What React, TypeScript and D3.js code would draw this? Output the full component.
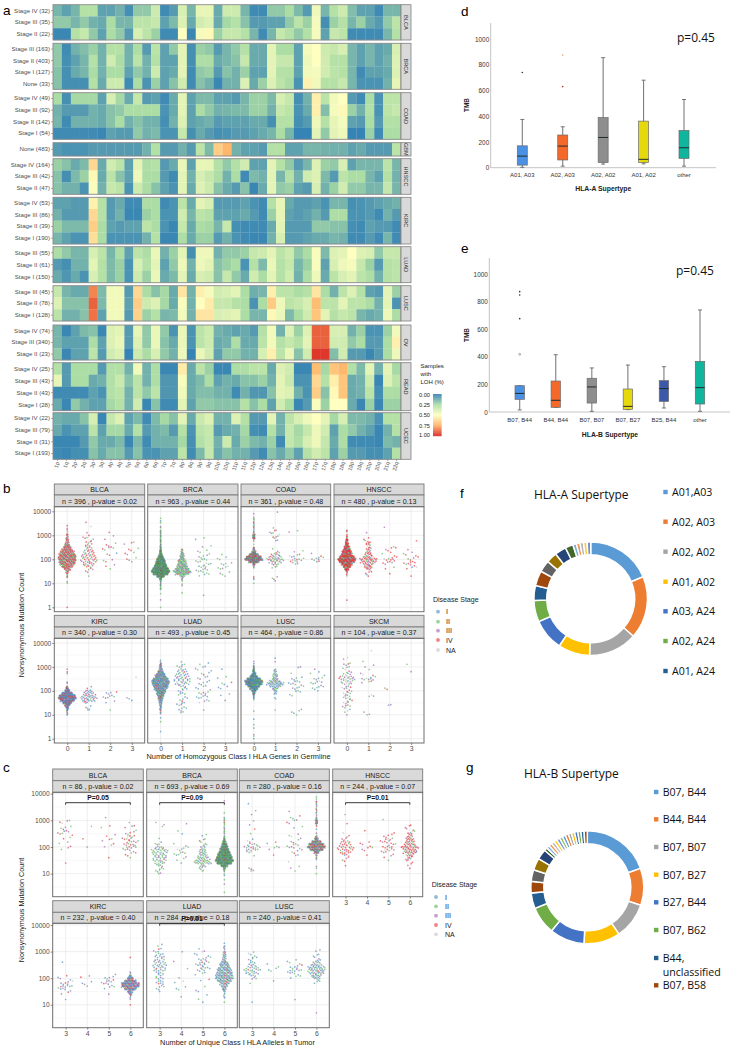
import { useEffect, useRef } from "react";
import * as d3 from "d3";

const SANS = "'Liberation Sans', Arial, sans-serif";
const CALIBRI = "'Open Sans', sans-serif";

// ---- panel a: % of samples with LOH, one row per stage, one value per chromosome arm
const ARMS = ["1p","1q","2p","2q","3p","3q","4p","4q","5p","5q","6p","6q","7p","7q","8p","8q","9p","9q","10p","10q","11p","11q","12p","12q","13q","14q","15q","16p","16q","17p","17q","18p","18q","19p","19q","20p","20q","21q","22q"];

const BLCA_ROWS = ["Stage IV (32)", "Stage III (35)", "Stage II (22)"];
const BLCA_LOH = [
  [15,10,15,28,28,10,10,14,5,20,20,35,4,8,38,15,43,43,12,35,35,15,4,4,20,20,25,16,8,45,15,28,35,17,10,10,4,15,15],
  [20,20,15,20,14,12,25,15,15,30,30,33,10,16,40,12,37,40,12,24,28,18,8,8,10,10,20,30,22,47,5,22,28,15,22,12,8,20,30],
  [3,3,28,33,20,10,25,20,8,38,30,22,4,4,50,3,47,52,22,33,33,28,15,4,15,33,28,20,27,47,10,33,30,4,4,4,4,15,27],
];
const BRCA_ROWS = ["Stage III (163)", "Stage II (403)", "Stage I (127)", "None (33)"];
const BRCA_LOH = [
  [20,4,14,17,22,14,28,28,14,26,8,30,10,20,42,5,22,20,8,15,20,28,12,12,42,25,25,10,47,50,35,33,38,15,10,15,10,12,38],
  [20,5,10,15,28,14,36,25,14,30,14,28,10,10,42,5,26,26,12,15,18,33,12,12,42,33,33,10,45,50,36,28,28,15,10,15,10,14,40],
  [18,5,12,15,25,14,25,25,10,20,14,35,10,12,42,4,20,22,8,18,14,22,10,10,42,28,28,10,46,47,36,30,28,15,4,10,10,12,40],
  [18,5,5,5,28,12,35,35,4,25,6,22,10,18,36,4,18,14,3,14,14,40,12,22,40,30,25,6,54,46,28,28,33,15,6,6,6,14,43],
];
const COAD_ROWS = ["Stage IV (49)", "Stage III (92)", "Stage II (142)", "Stage I (54)"];
const COAD_LOH = [
  [25,5,24,24,24,10,38,24,12,33,8,10,4,12,42,10,16,16,10,10,8,15,22,22,16,38,33,5,14,55,30,46,50,8,4,25,6,30,30],
  [14,8,8,8,14,12,18,20,25,25,25,25,6,12,42,10,25,20,14,15,16,16,22,22,14,33,30,6,12,55,17,47,52,22,14,27,6,30,33],
  [15,4,14,14,14,12,18,25,14,18,14,14,5,14,40,10,12,14,8,10,10,10,12,12,5,28,28,5,8,45,28,43,47,10,8,25,8,27,27],
  [4,4,4,4,4,3,10,8,8,20,14,16,6,6,33,5,12,8,5,6,8,8,10,12,15,25,15,2,2,42,20,42,45,2,2,22,4,25,25],
];
const GBM_ROWS = ["None (483)"];
const GBM_LOH = [
  [8,6,6,6,8,8,8,8,8,8,14,27,8,8,14,8,30,16,65,72,14,10,10,8,28,28,10,10,15,15,14,14,14,10,12,8,8,8,30],
];
const HNSCC_ROWS = ["Stage IV (164)", "Stage III (42)", "Stage II (47)"];
const HNSCC_LOH = [
  [22,18,12,16,62,12,36,30,10,42,26,28,8,12,44,10,43,43,28,20,27,36,10,10,42,28,20,8,15,40,22,20,38,10,15,15,15,30,15],
  [18,5,16,22,52,12,30,18,10,45,25,25,8,4,42,14,38,33,26,14,25,4,16,14,42,15,28,14,36,40,16,8,30,25,25,15,10,28,14],
  [18,14,14,6,48,14,33,30,6,35,25,18,10,6,42,12,40,35,18,12,8,18,3,12,42,20,22,10,8,38,14,22,36,20,20,15,15,32,15],
];
const KIRC_ROWS = ["Stage IV (53)", "Stage III (86)", "Stage II (39)", "Stage I (190)"];
const KIRC_LOH = [
  [10,10,8,8,54,28,8,12,4,4,26,25,4,6,30,12,42,38,8,8,8,10,6,4,28,43,12,8,8,10,6,15,15,5,6,8,10,12,14],
  [14,8,8,8,62,28,8,14,3,3,22,25,6,6,36,15,30,28,10,10,10,12,8,4,22,43,10,8,10,14,8,26,26,6,6,8,4,14,8],
  [22,16,16,16,65,25,10,8,10,10,30,25,6,3,33,12,25,24,15,33,5,4,4,4,12,42,8,8,8,20,20,18,18,5,4,10,8,8,4],
  [15,10,6,6,60,25,6,6,6,6,14,28,3,3,26,12,22,22,8,14,6,4,3,3,14,38,8,8,10,12,12,15,14,4,4,8,4,15,4],
];
const LUAD_ROWS = ["Stage III (55)", "Stage II (61)", "Stage I (150)"];
const LUAD_LOH = [
  [26,20,15,15,38,30,15,26,10,30,26,44,14,22,42,5,45,45,14,20,20,22,33,35,42,30,35,20,25,48,16,40,42,50,40,38,20,33,33],
  [8,5,14,14,42,28,16,22,6,38,28,42,10,20,45,14,45,42,18,22,25,6,28,16,44,28,33,15,22,48,10,38,45,47,33,22,8,28,30],
  [12,7,12,6,38,28,16,22,6,35,22,44,12,16,42,12,38,36,18,33,20,12,36,25,42,28,36,14,26,45,12,30,38,42,30,26,14,28,30],
];
const LUSC_ROWS = ["Stage III (45)", "Stage II (78)", "Stage I (128)"];
const LUSC_LOH = [
  [33,15,12,12,82,16,46,46,8,62,25,18,24,12,58,14,55,47,36,38,42,25,13,15,55,30,30,25,28,58,25,14,30,40,28,10,8,42,22],
  [40,18,18,18,88,16,46,46,10,65,35,40,24,12,48,14,50,56,33,33,28,25,6,25,66,45,30,33,38,70,30,30,42,30,30,25,14,42,6],
  [30,14,14,18,85,10,46,46,8,64,22,28,15,16,46,14,58,58,38,40,42,25,15,15,52,44,16,25,36,68,42,28,33,30,15,12,14,45,25],
];
const OV_ROWS = ["Stage IV (74)", "Stage III (340)", "Stage II (23)"];
const OV_LOH = [
  [15,3,10,16,18,3,40,42,8,43,20,44,20,6,44,6,30,35,14,12,10,12,8,28,46,14,40,22,40,88,88,38,38,14,22,6,6,22,46],
  [15,10,10,10,26,10,40,44,8,40,20,44,18,12,44,6,30,35,12,14,26,12,12,30,46,28,33,28,42,88,88,36,36,20,25,8,8,25,55],
  [20,3,10,10,30,8,36,40,2,35,25,38,20,14,45,2,44,36,10,20,20,14,14,38,55,30,44,18,36,95,95,17,36,8,8,3,8,25,45],
];
const READ_ROWS = ["Stage IV (25)", "Stage III (43)", "Stage II (43)", "Stage I (28)"];
const READ_LOH = [
  [28,8,25,25,25,8,27,27,14,46,14,26,3,3,56,12,30,22,3,3,26,26,30,30,12,40,36,3,3,70,24,68,72,27,16,42,14,42,24],
  [43,8,25,25,12,14,27,34,18,30,14,26,7,7,48,12,16,25,10,14,12,18,18,22,14,42,34,6,6,62,28,55,68,12,14,35,3,40,30],
  [4,4,4,4,10,6,27,30,14,30,20,30,7,7,46,12,17,17,14,14,4,14,7,7,18,42,40,14,6,65,18,52,68,12,14,30,5,26,25],
  [12,3,20,14,10,10,24,28,14,36,3,18,4,4,42,10,20,20,18,18,18,28,18,25,10,36,25,3,8,48,22,50,50,12,3,22,3,22,22],
];
const UCEC_ROWS = ["Stage IV (22)", "Stage III (79)", "Stage II (31)", "Stage I (193)"];
const UCEC_LOH = [
  [14,12,12,18,38,3,33,40,10,16,4,16,24,18,42,12,34,40,14,14,40,28,8,8,42,14,30,38,45,50,42,24,38,16,16,14,6,28,28],
  [12,6,10,10,30,10,24,24,12,28,8,14,16,8,28,6,30,33,8,12,14,24,5,4,28,14,33,24,33,45,36,10,25,20,14,10,3,14,28],
  [3,3,3,8,20,12,12,16,3,16,4,14,14,14,24,5,27,32,14,35,12,22,16,14,22,4,32,26,38,45,32,12,26,4,4,4,3,16,14],
  [4,3,5,5,18,12,18,18,8,18,6,6,10,10,30,4,16,33,12,18,14,14,8,4,18,12,20,10,28,36,30,10,22,8,8,5,5,10,28],
];

const HEAT_PANELS = [
  { name: "BLCA", rows: BLCA_ROWS, values: BLCA_LOH, y0: 4.7, y1: 40 },
  { name: "BRCA", rows: BRCA_ROWS, values: BRCA_LOH, y0: 43.3, y1: 89.3 },
  { name: "COAD", rows: COAD_ROWS, values: COAD_LOH, y0: 92.7, y1: 139.3 },
  { name: "GBM", rows: GBM_ROWS, values: GBM_LOH, y0: 142.7, y1: 156 },
  { name: "HNSCC", rows: HNSCC_ROWS, values: HNSCC_LOH, y0: 158.7, y1: 194.3 },
  { name: "KIRC", rows: KIRC_ROWS, values: KIRC_LOH, y0: 197.3, y1: 244 },
  { name: "LUAD", rows: LUAD_ROWS, values: LUAD_LOH, y0: 246.7, y1: 282.7 },
  { name: "LUSC", rows: LUSC_ROWS, values: LUSC_LOH, y0: 285.7, y1: 321 },
  { name: "OV", rows: OV_ROWS, values: OV_LOH, y0: 325, y1: 360 },
  { name: "READ", rows: READ_ROWS, values: READ_LOH, y0: 362.7, y1: 410.7 },
  { name: "UCEC", rows: UCEC_ROWS, values: UCEC_LOH, y0: 412.7, y1: 459.3 },
];

const LOH_TICKS = [0, 25, 50, 75, 100];
const LOH_COLORS = ["#2c7bb6", "#abdda4", "#ffffbf", "#fdae61", "#d7191c"];

// ---- panels b and c: how many samples sit at each mutation count.
// Flat pairs of bin, count; bin is log10(mutations) in tenths, so 20 = 100 mutations.
const STAGES = ["I", "II", "III", "IV", "NA"];
const STAGE_COLORS = ["#377eb8", "#4daf4a", "#984ea3", "#e41a1c", "#bdbdbd"];

const HOMOZYGOUS_CATS = ["0", "1", "2", "3"];
const B_BLCA = [
  [0,1,10,1,11,1,12,1,13,2,14,3,15,6,16,12,17,20,18,27,19,30,20,32,21,32,22,30,23,26,24,20,25,14,26,10,27,7,28,5,29,4,30,3,31,2,32,1,33,1,34,1],
  [13,1,15,2,16,3,17,5,18,6,19,8,20,9,21,8,22,7,23,6,24,5,25,4,26,4,27,3,28,2,29,3,30,1,31,1,34,1,35,1],
  [16,1,17,1,18,1,19,2,20,1,22,2,23,1,24,2,25,3,26,2,27,1,28,1,30,1,31,1],
  [19,1,20,2,21,1,22,2,23,1,24,2,25,1,26,1,27,2],
];
const B_BRCA = [
  [0,1,3,1,6,1,7,1,8,2,9,3,10,3,11,5,12,12,13,45,14,90,15,110,16,95,17,75,18,65,19,55,20,45,21,30,22,18,23,10,24,7,25,5,26,4,27,3,28,3,29,3,30,3,31,3,32,2,33,1,34,1,35,1,36,1,37,1],
  [6,1,9,1,10,1,11,2,12,2,13,8,14,22,15,28,16,22,17,17,18,15,19,13,20,10,21,7,22,6,23,4,24,3],
  [5,1,13,1,14,3,15,4,16,3,17,4,18,4,19,3,20,3,21,3,22,2,23,2,24,1,25,1,26,1,28,1,29,1],
  [13,1,14,2,15,1,16,3,17,2,18,3,19,1,20,2,21,1,22,1],
];
const B_COAD = [
  [10,1,12,2,13,1,16,1,17,2,18,8,19,35,20,60,21,50,22,30,23,14,24,6,25,3,26,1,28,2,29,8,30,8,31,3,32,2,33,2,34,2,35,2,36,2,37,2,38,1,39,1],
  [11,1,12,2,13,1,16,1,17,2,18,5,19,9,20,12,21,9,22,6,23,3,24,1,28,2,29,3,30,2,31,3,32,2,33,1,40,1],
  [18,2,19,4,20,6,21,3,22,2,23,1,24,1,31,1,32,1],
  [19,2,20,4,21,3,22,1],
];
const B_HNSCC = [
  [3,1,13,1,14,2,15,5,16,12,17,20,18,30,19,42,20,48,21,40,22,30,23,26,24,20,25,15,26,10,27,8,28,6,29,3,30,2,31,1,32,2],
  [13,1,14,2,15,3,16,5,17,7,18,9,19,14,20,15,21,9,22,6,23,5,24,4,25,3,26,4,27,4,28,2,29,1,31,1],
  [14,1,16,1,17,1,18,2,19,4,20,5,21,3,22,1,23,1,24,2,25,3,33,1],
  [13,1,16,1,17,3,18,4,19,3,20,2,21,3,22,2,23,1,24,1,28,1],
];
const B_KIRC = [
  [10,2,11,2,12,4,13,8,14,14,15,25,16,40,17,50,18,45,19,30,20,15,21,8,22,3,23,1,24,1,27,1,28,1,29,1],
  [12,2,13,2,14,1,15,3,16,9,17,12,18,10,19,7,20,5,21,1,22,1],
  [12,1,15,1,16,1,17,3,18,3,19,3,20,1],
  [16,1,17,2,26,1],
];
const B_LUAD = [
  [3,1,7,1,9,1,10,1,11,2,12,3,13,4,14,5,15,6,16,8,17,11,18,14,19,18,20,22,21,28,22,32,23,36,24,38,25,32,26,24,27,18,28,12,29,8,30,5,31,4,32,2,33,1],
  [11,2,12,2,13,3,14,3,15,2,16,2,17,3,18,1,19,3,20,3,21,3,22,4,23,7,24,8,25,8,26,7,27,6,28,5,29,4,30,3,31,2,32,1],
  [12,1,15,1,16,3,17,3,18,3,19,4,20,2,21,2,22,2,23,3,24,2,25,2,26,2,27,2,28,2,29,2,30,2,31,1,32,1],
  [16,1,18,1,19,1,21,2,22,1,23,2,24,1,25,1,26,1,29,1],
];
const B_LUSC = [
  [0,1,1,1,2,1,4,1,6,1,8,1,12,1,16,1,17,2,18,4,19,8,20,15,21,28,22,40,23,55,24,60,25,45,26,25,27,14,28,8,29,5,30,3,31,2,32,1],
  [12,1,17,2,19,3,20,4,21,6,22,12,23,18,24,12,25,6,26,5,27,5,28,3,29,2,32,1,34,1],
  [10,1,11,2,12,2,18,2,20,3,21,3,22,3,23,4,24,3,25,3,26,1,27,1,30,2],
  [20,1,21,3,22,3,23,3,24,3,25,3,26,2,27,1,28,1,29,1],
];
const B_SKCM = [
  [10,1,11,1,12,2,13,2,14,3,15,3,16,3,17,4,18,3,19,4,20,3,21,3,22,3,23,5,24,6,25,8,26,7,27,4,28,3,29,2,30,2,31,3,32,1,33,1,34,1],
  [10,2,11,1,18,3,23,1,24,2,25,6,26,3,27,2,29,1,30,1,31,1,32,1,37,1],
  [14,2,21,2],
  [28,1,31,1],
];

const ALLELE_CATS = ["3", "4", "5", "6"];
const C_BLCA = [
  [14,1,19,1,20,2,21,1,22,1,23,1,24,2,25,3,26,3,27,3,28,1,29,2,30,2],
  [20,1,23,1,28,1],
  [16,1,20,1,21,2,22,1,23,2,24,1,25,1,27,1,28,1,31,1],
  [16,1,17,2,18,3,19,4,20,5,21,6,22,6,23,5,24,4,25,3,26,2,27,1,28,2,29,1],
];
const C_BRCA = [
  [10,2,11,3,12,3,13,4,14,6,15,8,16,8,17,8,18,9,19,10,20,5,21,3,22,1,23,1,28,2,29,1],
  [14,1,15,1,16,2,17,3,18,3,19,3,20,3,21,1,25,1,26,1,29,1],
  [11,2,12,3,13,5,14,14,15,12,16,9,17,8,18,6,19,5,20,4,21,3,22,2,23,2,24,1,25,1],
  [3,1,6,1,8,1,9,1,10,1,11,3,12,8,13,30,14,65,15,80,16,70,17,60,18,50,19,40,20,30,21,22,22,14,23,6,24,3,25,2,26,2,27,2,28,2,29,2,30,2,31,2,33,1,37,1],
];
const C_COAD = [
  [11,2,12,2,17,1,18,3,19,6,20,8,21,5,22,2,23,1,25,1,27,1,28,1,30,1,32,1,34,1,36,1],
  [17,1,19,1,20,3,21,1,22,1],
  [11,1,12,1,13,1,14,1,17,2,18,2,19,3,20,4,21,3,22,2,23,2,24,2,25,1,27,1,28,1,29,2,30,2,31,2,32,1,33,1],
  [10,1,12,1,13,1,15,1,16,2,17,4,18,14,19,35,20,48,21,42,22,25,23,10,24,5,25,1,27,1,28,2,29,6,30,6,31,3,32,2,33,2,34,2,35,2,36,2,37,2,38,1,39,1],
];
const C_HNSCC = [
  [13,1,15,2,16,2,17,4,18,6,19,8,20,9,21,6,22,5,23,3,24,2,25,1,29,1,32,1],
  [17,1,19,2,20,3,21,2,22,1,26,1],
  [15,1,16,1,17,2,18,3,19,5,20,5,21,4,22,5,23,4,24,3,25,2,30,1],
  [12,1,13,1,14,2,15,3,16,4,17,7,18,12,19,12,20,15,21,10,22,8,23,7,24,5,25,4,26,3,27,2,28,2],
];
const C_KIRC = [
  [12,1,14,1,15,2,16,4,17,6,18,4,19,3,20,2,21,1,26,1],
  [17,1,18,2,19,1,20,1,21,1],
  [14,1,16,1,17,3,18,4,19,4,20,3,21,2],
  [10,1,12,1,13,2,14,6,15,12,16,25,17,38,18,38,19,25,20,12,21,5,22,2,28,1],
];
const C_LUAD = [
  [15,1,16,2,17,3,18,4,19,3,20,4,21,4,22,4,23,6,24,6,25,7,26,6,27,5,28,5,29,4,30,3,31,2,32,1,33,1],
  [13,1,16,2,17,1,18,1,19,1,20,1,24,1,26,1,30,1],
  [11,1,12,1,14,1,15,2,17,1,19,1,20,1,21,1,22,2,23,4,24,5,25,5,26,5,27,4,28,3,29,2,30,2,31,1],
  [11,1,13,2,14,2,15,3,16,5,17,8,18,12,19,18,20,22,21,22,22,20,23,18,24,15,25,12,26,9,27,5,28,4,29,4,30,3,31,2,32,2,33,1],
];
const C_LUSC = [
  [11,1,18,1,20,3,21,4,22,7,23,9,24,7,25,4,26,3,27,3,28,3,29,2,30,1],
  [19,1,23,2,24,2,25,1],
  [12,1,20,1,21,3,22,4,23,6,24,4,25,3,26,2,27,1],
  [7,1,18,1,19,3,20,6,21,8,22,12,23,14,24,14,25,9,26,6,27,3,28,2,29,2,30,1,31,1],
];

// share of each disease stage (I, II, III, IV, NA) per cancer type, judged by eye
const STAGE_MIX: Record<string, number[]> = {
  BLCA: [3, 30, 25, 40, 2],
  BRCA: [17, 58, 20, 2, 3],
  COAD: [15, 35, 30, 15, 5],
  HNSCC: [5, 15, 15, 60, 5],
  KIRC: [48, 10, 25, 15, 2],
  LUAD: [52, 25, 16, 5, 2],
  LUSC: [48, 33, 16, 2, 1],
  SKCM: [10, 30, 35, 10, 15],
};

const B_PANELS = [
  { name: "BLCA", stat: "n = 396 , p-value = 0.02", bins: B_BLCA },
  { name: "BRCA", stat: "n = 963 , p-value = 0.44", bins: B_BRCA },
  { name: "COAD", stat: "n = 361 , p-value = 0.48", bins: B_COAD },
  { name: "HNSCC", stat: "n = 480 , p-value = 0.13", bins: B_HNSCC },
  { name: "KIRC", stat: "n = 340 , p-value = 0.30", bins: B_KIRC },
  { name: "LUAD", stat: "n = 493 , p-value = 0.45", bins: B_LUAD },
  { name: "LUSC", stat: "n = 464 , p-value = 0.86", bins: B_LUSC },
  { name: "SKCM", stat: "n = 104 , p-value = 0.37", bins: B_SKCM },
];
const C_PANELS = [
  { name: "BLCA", stat: "n = 86 , p-value = 0.02", bins: C_BLCA, bracket: "P=0.05" },
  { name: "BRCA", stat: "n = 693 , p-value = 0.69", bins: C_BRCA, bracket: "P=0.09" },
  { name: "COAD", stat: "n = 280 , p-value = 0.16", bins: C_COAD },
  { name: "HNSCC", stat: "n = 244 , p-value = 0.07", bins: C_HNSCC, bracket: "P=0.01" },
  { name: "KIRC", stat: "n = 232 , p-value = 0.40", bins: C_KIRC },
  { name: "LUAD", stat: "n = 284 , p-value = 0.18", bins: C_LUAD, bracket: "P=0.01" },
  { name: "LUSC", stat: "n = 240 , p-value = 0.41", bins: C_LUSC },
];

const B_COLS = [[54.3, 144.7], [147.7, 238], [241, 330.7], [334, 424]];
const C_COLS = [[52.7, 143.3], [146.7, 237.3], [239.3, 329.3], [332.7, 422.7]];
const B_ROWS = [
  { stripTop: 484, mid: 495, top: 506.7, bottom: 611.7, y1: 607.3, y10000: 511.3 },
  { stripTop: 615.3, mid: 627, top: 638.3, bottom: 743, y1: 738.7, y10000: 643 },
];
const C_ROWS = [
  { stripTop: 769, mid: 780.7, top: 792.3, bottom: 896.7, y1: 900.3, y10000: 793.7 },
  { stripTop: 900.7, mid: 912.3, top: 923.3, bottom: 1027.7, y1: 1031.4, y10000: 925 },
];

// ---- panels d and e: TMB box plots
const A_TYPES = ["A01, A03", "A02, A03", "A02, A02", "A01, A02", "other"];
const A_LOW = [3, 12, 28, 30, 12];
const A_Q1 = [20, 60, 40, 40, 72];
const A_MEDIAN = [90, 168, 235, 65, 155];
const A_Q3 = [170, 254, 390, 362, 290];
const A_HIGH = [375, 318, 855, 680, 530];
const A_OUTLIERS = [[740], [630, 875], [], [], []];
const A_FILLS = ["#4a90e4", "#f4692a", "#8e8e8e", "#e5d80c", "#0fb59c"];

const B_TYPES = ["B07, B44", "B44, B44", "B07, B07", "B07, B27", "B25, B44", "other"];
const B_LOW = [15, 34, 5, 17, 29, 5];
const B_Q1 = [92, 34, 65, 19, 77, 58];
const B_MEDIAN = [135, 85, 182, 41, 170, 177];
const B_Q3 = [191, 225, 245, 167, 228, 368];
const B_HIGH = [191, 416, 320, 341, 329, 741];
const B_OUTLIERS = [[419, 678, 850, 874], [], [], [], [], []];
const B_FILLS = ["#4a90e4", "#f4692a", "#8e8e8e", "#e5d80c", "#3d5aa8", "#0fb59c"];

const TMB_TICKS = [0, 200, 400, 600, 800, 1000];

// ---- panels f and g: supertype shares, in %
const A_SHARES = [18.4, 17.5, 13.6, 8.9, 8.9, 6, 4.2, 4.2, 3.3, 3, 3.2, 2.2, 1, 1, 1, 1, 1];
const A_LEGEND = ["A01,A03", "A02, A03", "A02, A02", "A01, A02", "A03, A24", "A02, A24", "A01, A24"];
const B_SHARES = [19.4, 10.5, 10.3, 10.3, 9.9, 7.9, 4.4, 3.3, 3.3, 3.4, 2.9, 0.9, 0.9, 0.9, 0.9, 0.9, 0.9, 0.9, 0.9, 0.9, 0.9, 0.9, 0.9, 0.9, 0.9, 0.9];
const B_LEGEND = ["B07, B44", "B44, B44", "B07, B07", "B07, B27", "B27, B44", "B07, B62", "B44,", "B07, B58"];
const DONUT_COLORS = ["#5b9bd5", "#ed7d31", "#a5a5a5", "#ffc000", "#4472c4", "#70ad47", "#255e91", "#9e480e", "#636363", "#997300", "#264478", "#43682b", "#7cafdd", "#f1975a", "#b7b7b7", "#ffcd33", "#698ed0", "#8cc168"];

type Sel = d3.Selection<any, any, any, any>;

function label(g: Sel, x: number, y: number, s: string, size: number, opts: any = {}) {
  return g.append("text")
    .attr("x", x).attr("y", y)
    .attr("font-family", opts.font ?? SANS)
    .attr("font-size", size)
    .attr("font-weight", opts.weight ?? "normal")
    .attr("fill", opts.fill ?? "#222")
    .attr("text-anchor", opts.anchor ?? "start")
    .attr("transform", opts.rotate ? `rotate(${opts.rotate},${x},${y})` : null)
    .text(s);
}

function drawHeatmap(svg: Sel) {
  const x = d3.scaleBand<string>().domain(ARMS).range([53, 401]);
  const color = d3.scaleLinear<string>().domain(LOH_TICKS).range(LOH_COLORS);

  HEAT_PANELS.forEach((p) => {
    const y = d3.scaleBand<string>().domain(p.rows).range([p.y0, p.y1]);
    p.values.forEach((row, r) => {
      svg.append("g").selectAll("rect").data(row).join("rect")
        .attr("x", (_, i) => x(ARMS[i])!)
        .attr("y", y(p.rows[r])!)
        .attr("width", x.bandwidth() + 0.2)
        .attr("height", y.bandwidth() + 0.2)
        .attr("fill", (d) => color(d));
    });
    svg.append("rect").attr("x", 53).attr("y", p.y0).attr("width", 348).attr("height", p.y1 - p.y0)
      .attr("fill", "none").attr("stroke", "#8a8a8a").attr("stroke-width", 0.9);
    svg.append("rect").attr("x", 401).attr("y", p.y0).attr("width", 10).attr("height", p.y1 - p.y0)
      .attr("fill", "#d9d9d9").attr("stroke", "#808080").attr("stroke-width", 0.8);
    const mid = (p.y0 + p.y1) / 2;
    label(svg, 404, mid, p.name, 5.6, { anchor: "middle", rotate: 90, fill: "#333" });

    const axis = d3.axisLeft(y).tickSize(2).tickPadding(1);
    svg.append("g").attr("transform", "translate(53,0)").call(axis)
      .call((s: Sel) => s.select(".domain").remove())
      .call((s: Sel) => s.selectAll("line").attr("stroke", "#666").attr("stroke-width", 0.5))
      .call((s: Sel) => s.selectAll("text").attr("font-family", SANS).attr("font-size", 6.1).attr("fill", "#4d4d4d"));
  });

  ARMS.forEach((a) => {
    const cx = x(a)! + x.bandwidth() / 2;
    svg.append("line").attr("x1", cx).attr("x2", cx).attr("y1", 459.3).attr("y2", 461)
      .attr("stroke", "#666").attr("stroke-width", 0.5);
    label(svg, cx + 1.8, 462.5, a, 5.3, { anchor: "end", rotate: -75, fill: "#4d4d4d" });
  });

  // colour legend
  label(svg, 420.5, 368, "Samples", 6, { fill: "#222" });
  label(svg, 420.5, 376, "with", 6, { fill: "#222" });
  label(svg, 420.5, 384, "LOH (%)", 6, { fill: "#222" });
  const bar = d3.scaleLinear().domain([0, 100]).range([394, 436]);
  svg.append("g").selectAll("rect").data(d3.range(0, 100)).join("rect")
    .attr("x", 433).attr("width", 8.5)
    .attr("y", (d) => bar(d)).attr("height", bar(1) - bar(0) + 0.2)
    .attr("fill", (d) => color(d));
  LOH_TICKS.forEach((t) => {
    label(svg, 419, bar(t) + 2 + (t === 0 ? 0.6 : t === 100 ? -0.6 : 0), (t / 100).toFixed(2), 5.6, { fill: "#222" });
  });
}

// van der Corput sequence: sideways offsets that spread sparse rows the way a quasirandom plot does
function vdc(n: number) {
  let v = 0, f = 0.5;
  while (n > 0) { v += f * (n & 1); n >>= 1; f /= 2; }
  return v;
}

function swarm(pairs: number[]) {
  const rows: { bin: number; n: number }[] = [];
  for (let i = 0; i < pairs.length; i += 2) rows.push({ bin: pairs[i], n: pairs[i + 1] });
  const maxRow = d3.max(rows, (r) => r.n) ?? 1;
  const spacing = Math.min(18, maxRow * 2.2) / maxRow;
  const sparse = maxRow <= 6;
  const pts: { bin: number; dx: number; dy: number }[] = [];
  rows.forEach((r, k) => {
    const rowW = (r.n - 1) * spacing;
    const shift = sparse ? (vdc(k + 1) - 0.5) * (17 - rowW) : maxRow <= 15 && r.n <= 3 ? (vdc(k + 1) - 0.5) * 8 : 0;
    for (let j = 0; j < r.n; j++) {
      pts.push({
        bin: r.bin,
        dx: j * spacing - rowW / 2 + shift,
        dy: vdc(j + 1 + k * 5) * 2.2 - 1.1,
      });
    }
  });
  return pts;
}

// hand out stages in proportion to the mix, point by point
function stagePicker(mix: number[]) {
  const total = d3.sum(mix);
  const credit = mix.map(() => 0);
  return () => {
    mix.forEach((m, i) => (credit[i] += m / total));
    const pick = d3.maxIndex(credit);
    credit[pick] -= 1;
    return pick;
  };
}

function drawFacet(svg: Sel, panel: any, col: number[], row: any, cats: string[], ticks: number[], showY: boolean, showX: boolean, bracketDy: number) {
  const [x0, x1] = col;
  const w = x1 - x0;
  const sg = svg.append("g");
  sg.append("rect").attr("x", x0).attr("y", row.stripTop).attr("width", w).attr("height", row.mid - row.stripTop)
    .attr("fill", "#d9d9d9").attr("stroke", "#7a7a7a").attr("stroke-width", 0.9);
  sg.append("rect").attr("x", x0).attr("y", row.mid).attr("width", w).attr("height", row.top - row.mid)
    .attr("fill", "#d9d9d9").attr("stroke", "#7a7a7a").attr("stroke-width", 0.9);
  label(sg, (x0 + x1) / 2, row.mid - 3, panel.name, 7, { anchor: "middle", fill: "#1a1a1a" });
  label(sg, (x0 + x1) / 2, row.top - 3, panel.stat, 7.1, { anchor: "middle", fill: "#1a1a1a" });

  const x = d3.scalePoint<string>().domain(cats).range([x0, x1]).padding(0.6);
  const y = d3.scaleLog().domain([1, 10000]).range([row.y1, row.y10000]);

  const g = svg.append("g");
  // grid
  [0.5, 1.5, 2.5, 3.5].map((e) => Math.pow(10, e)).forEach((v) => {
    if (y(v) < row.top || y(v) > row.bottom) return;
    g.append("line").attr("x1", x0).attr("x2", x1).attr("y1", y(v)).attr("y2", y(v)).attr("stroke", "#f0f0f0").attr("stroke-width", 0.5);
  });
  ticks.forEach((v) => {
    g.append("line").attr("x1", x0).attr("x2", x1).attr("y1", y(v)).attr("y2", y(v)).attr("stroke", "#e6e6e6").attr("stroke-width", 0.7);
  });
  cats.forEach((c) => {
    g.append("line").attr("x1", x(c)!).attr("x2", x(c)!).attr("y1", row.top).attr("y2", row.bottom).attr("stroke", "#e6e6e6").attr("stroke-width", 0.7);
  });

  // points
  const pick = stagePicker(STAGE_MIX[panel.name]);
  (panel.bins as number[][]).forEach((pairs, c) => {
    const pts = swarm(pairs).map((p) => ({ ...p, stage: pick() }));
    g.append("g").selectAll("circle").data(pts).join("circle")
      .attr("cx", (d) => x(cats[c])! + d.dx)
      .attr("cy", (d) => y(Math.pow(10, d.bin / 10)) + d.dy)
      .attr("r", 0.85)
      .attr("fill", (d) => STAGE_COLORS[d.stage])
      .attr("fill-opacity", 0.6);
  });

  g.append("rect").attr("x", x0).attr("y", row.top).attr("width", w).attr("height", row.bottom - row.top)
    .attr("fill", "none").attr("stroke", "#6e6e6e").attr("stroke-width", 1);

  if (panel.bracket) {
    const ly = row.top + bracketDy;
    const xa = x(cats[0])!, xb = x(cats[3])!;
    svg.append("path").attr("d", `M${xa},${ly + 2}V${ly}H${xb}V${ly + 2}`).attr("fill", "none").attr("stroke", "#222").attr("stroke-width", 0.9);
    label(svg, (xa + xb) / 2, ly - 2.6, panel.bracket, 6.8, { anchor: "middle", weight: "bold", fill: "#111" });
  }

  if (showY) {
    svg.append("g").attr("transform", `translate(${x0},0)`)
      .call(d3.axisLeft(y).tickValues(ticks).tickFormat((d) => String(d)).tickSize(2).tickPadding(1))
      .call((s: Sel) => s.select(".domain").remove())
      .call((s: Sel) => s.selectAll("line").attr("stroke", "#444").attr("stroke-width", 0.6))
      .call((s: Sel) => s.selectAll("text").attr("font-family", SANS).attr("font-size", 6.6).attr("fill", "#4d4d4d"));
  }
  if (showX) {
    svg.append("g").attr("transform", `translate(0,${row.bottom})`)
      .call(d3.axisBottom(x).tickSize(2).tickPadding(1.5))
      .call((s: Sel) => s.select(".domain").remove())
      .call((s: Sel) => s.selectAll("line").attr("stroke", "#444").attr("stroke-width", 0.6))
      .call((s: Sel) => s.selectAll("text").attr("font-family", SANS).attr("font-size", 6.8).attr("fill", "#4d4d4d"));
  }
}

function stageLegend(svg: Sel, titleX: number, titleY: number, dotX: number, textX: number, rowYs: number[]) {
  label(svg, titleX, titleY, "Disease Stage", 7, { fill: "#222" });
  STAGES.forEach((s, i) => {
    svg.append("circle").attr("cx", dotX).attr("cy", rowYs[i]).attr("r", 1.9)
      .attr("fill", STAGE_COLORS[i]).attr("fill-opacity", 0.55);
    label(svg, textX, rowYs[i] + 2.5, s, 7, { fill: "#222" });
  });
}

function drawBoxes(svg: Sel, cfg: any) {
  const x = d3.scalePoint<string>().domain(cfg.types).range(cfg.xRange);
  const y = d3.scaleLinear().domain([0, 1000]).range(cfg.yRange);
  const half = cfg.boxW / 2;

  svg.append("g").attr("transform", `translate(${cfg.axisX},0)`)
    .call(d3.axisLeft(y).tickValues(TMB_TICKS).tickFormat((d) => String(d)).tickSize(0).tickPadding(1.5))
    .call((s: Sel) => s.select(".domain").remove())
    .call((s: Sel) => s.selectAll("text").attr("font-family", SANS).attr("font-size", 6.4).attr("fill", "#333"));
  svg.append("path").attr("d", `M${cfg.axisX},${cfg.axisTop}V${y(0)}H${cfg.axisRight}`)
    .attr("fill", "none").attr("stroke", "#c4c4c4").attr("stroke-width", 1);

  cfg.types.forEach((t: string, i: number) => {
    const cx = x(t)!;
    const g = svg.append("g");
    g.append("line").attr("x1", cx).attr("x2", cx).attr("y1", y(cfg.high[i])).attr("y2", y(cfg.low[i])).attr("stroke", "#7d7d7d").attr("stroke-width", 1.1);
    [cfg.high[i], cfg.low[i]].forEach((v: number) => {
      g.append("line").attr("x1", cx - 2).attr("x2", cx + 2).attr("y1", y(v)).attr("y2", y(v)).attr("stroke", "#666").attr("stroke-width", 0.9);
    });
    g.append("rect").attr("x", cx - half).attr("width", half * 2)
      .attr("y", y(cfg.q3[i])).attr("height", y(cfg.q1[i]) - y(cfg.q3[i]))
      .attr("fill", cfg.fills[i]).attr("stroke", "#6b6b6b").attr("stroke-width", 0.7);
    g.append("line").attr("x1", cx - half).attr("x2", cx + half).attr("y1", y(cfg.median[i])).attr("y2", y(cfg.median[i])).attr("stroke", "#1f2b2b").attr("stroke-width", 1);
    cfg.outliers[i].forEach((v: number) => {
      const open = cfg.openOutlier === v;
      g.append("circle").attr("cx", cx).attr("cy", y(v)).attr("r", open ? 0.9 : 0.8)
        .attr("fill", open ? "#fff" : cfg.outlierColor(i, v)).attr("stroke", open ? "#555" : "none").attr("stroke-width", 0.5);
    });
    label(g, cx, cfg.labelY, t, 6, { anchor: "middle", fill: "#333" });
  });
  label(svg, cfg.titleX, cfg.titleY, cfg.title, 6.8, { anchor: "middle", weight: "bold", fill: "#222" });
  label(svg, 469, cfg.tmbY, "TMB", 6.4, { anchor: "middle", weight: "bold", rotate: -90, fill: "#222" });
  label(svg, cfg.pX, cfg.pY, "p=0.45", 12, { font: CALIBRI, fill: "#111" });
}

function drawDonut(svg: Sel, cfg: any) {
  const pie = d3.pie<number>().sort(null).value((d) => d);
  const arc = d3.arc<d3.PieArcDatum<number>>().innerRadius(cfg.inner).outerRadius(cfg.outer);
  svg.append("g").attr("transform", `translate(${cfg.cx},${cfg.cy})`)
    .selectAll("path").data(pie(cfg.shares)).join("path")
    .attr("d", arc as any)
    .attr("fill", (_, i) => DONUT_COLORS[i % DONUT_COLORS.length])
    .attr("stroke", "#fff").attr("stroke-width", 1.5);
  label(svg, cfg.titleX, cfg.titleY, cfg.title, 12, { font: CALIBRI, fill: "#111" });
  cfg.legend.forEach((s: string, i: number) => {
    const ly = cfg.legendY[i];
    svg.append("rect").attr("x", cfg.swatchX).attr("y", ly - 2.2).attr("width", 4.4).attr("height", 4.4).attr("fill", DONUT_COLORS[i]);
    label(svg, cfg.textX, ly + 4, s, 10.6, { font: CALIBRI, fill: "#111" });
  });
}

export default function App() {
  const ref = useRef<SVGSVGElement | null>(null);

  useEffect(() => {
    const svg = d3.select(ref.current) as Sel;
    svg.selectAll("*").remove();

    [["a", 3, 15], ["b", 3, 492.5], ["c", 3, 771.5], ["d", 461, 16], ["e", 461, 253], ["f", 460, 498], ["g", 466, 772]].forEach(([s, x, y]) => {
      label(svg, x as number, y as number, s as string, 13.5, { fill: "#000" });
    });

    drawHeatmap(svg);

    B_PANELS.forEach((p, i) => {
      const r = Math.floor(i / 4), c = i % 4;
      drawFacet(svg, p, B_COLS[c], B_ROWS[r], HOMOZYGOUS_CATS, [1, 10, 100, 1000, 10000], c === 0, r === 1, 0);
    });
    label(svg, 24, 625, "Nonsynonymous Mutation Count", 7.2, { anchor: "middle", rotate: -90, fill: "#222" });
    label(svg, 238.5, 759, "Number of Homozygous Class I HLA Genes in Germline", 7.4, { anchor: "middle", fill: "#222" });
    stageLegend(svg, 433, 602, 438, 446, [611.7, 621.7, 630.7, 640, 650]);

    C_PANELS.forEach((p, i) => {
      const r = Math.floor(i / 4), c = i % 4;
      drawFacet(svg, p, C_COLS[c], C_ROWS[r], ALLELE_CATS, [10, 100, 1000, 10000], c === 0, r === 1 || i === 3, r === 0 ? 10.4 : 0.4);
    });
    label(svg, 24, 910, "Nonsynonymous Mutation Count", 7.2, { anchor: "middle", rotate: -90, fill: "#222" });
    label(svg, 237.5, 1045, "Number of Unique Class I HLA Alleles in Tumor", 7.4, { anchor: "middle", fill: "#222" });
    stageLegend(svg, 431.7, 887, 436, 445, [897, 906.3, 915.7, 925, 934.3]);

    drawBoxes(svg, {
      types: A_TYPES, low: A_LOW, q1: A_Q1, median: A_MEDIAN, q3: A_Q3, high: A_HIGH, outliers: A_OUTLIERS, fills: A_FILLS,
      xRange: [522.3, 684], yRange: [167.7, 39], boxW: 10, axisX: 490.7, axisTop: 23, axisRight: 716,
      labelY: 176.5, title: "HLA-A Supertype", titleX: 603.3, titleY: 191, tmbY: 105, pX: 677, pY: 41.7,
      outlierColor: (i: number, v: number) => (i === 1 ? (v === 630 ? "#b03020" : "#f4a070") : "#333"),
    });
    drawBoxes(svg, {
      types: B_TYPES, low: B_LOW, q1: B_Q1, median: B_MEDIAN, q3: B_Q3, high: B_HIGH, outliers: B_OUTLIERS, fills: B_FILLS,
      xRange: [519.7, 700], yRange: [412, 274.3], boxW: 9.4, axisX: 489.3, axisTop: 258, axisRight: 730,
      labelY: 421.5, title: "HLA-B Supertype", titleX: 610, titleY: 436.5, tmbY: 335, pX: 676, pY: 275,
      openOutlier: 419, outlierColor: () => "#333",
    });

    drawDonut(svg, {
      shares: A_SHARES, cx: 590.7, cy: 598.7, outer: 56.8, inner: 44, title: "HLA-A Supertype", titleX: 534, titleY: 499.3,
      legend: A_LEGEND, legendY: [492, 521.7, 551.7, 581.7, 611.3, 641, 671], swatchX: 663.3, textX: 672,
    });
    drawDonut(svg, {
      shares: B_SHARES, cx: 587.3, cy: 887.3, outer: 56.5, inner: 43.5, title: "HLA-B Supertype", titleX: 524, titleY: 778,
      legend: B_LEGEND, legendY: [792, 819.3, 847, 874.7, 902.3, 930, 958, 985.3], swatchX: 654, textX: 662.7,
    });
    label(svg, 662.7, 976.3, "unclassified", 10.6, { font: CALIBRI, fill: "#111" });
  }, []);

  return <svg ref={ref} width={734} height={1050} style={{ position: "absolute", left: 0, top: 0, background: "#fff" }} />;
}
